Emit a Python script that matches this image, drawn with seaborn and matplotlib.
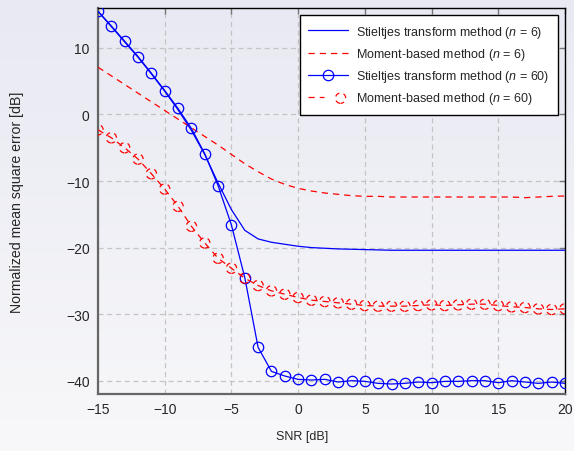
import numpy as np
import pandas as pd
import matplotlib
matplotlib.use("Agg")
import matplotlib.pyplot as plt
import seaborn as sns
from matplotlib.legend_handler import HandlerTuple

# ---- data ----
snr = [-15, -14, -13, -12, -11, -10, -9, -8, -7, -6, -5, -4, -3, -2, -1, 0,
       1, 2, 3, 4, 5, 6, 7, 8, 9, 10, 11, 12, 13, 14, 15, 16, 17, 18, 19, 20]

stieltjes_n6 = [15.5, 13.2, 10.9, 8.6, 6.1, 3.5, 0.7, -2.4, -6.0, -10.3,
                -14.3, -17.4, -18.7, -19.2, -19.5, -19.8,
                -20.0, -20.1, -20.2, -20.25, -20.3, -20.35, -20.4, -20.4, -20.4, -20.4,
                -20.4, -20.4, -20.4, -20.4, -20.4, -20.4, -20.4, -20.4, -20.4, -20.4]

moment_n6 = [7.1, 5.8, 4.5, 3.2, 1.9, 0.6, -0.7, -2.0, -3.3, -4.6,
             -6.0, -7.4, -8.6, -9.7, -10.5, -11.1,
             -11.5, -11.8, -12.0, -12.2, -12.3, -12.3, -12.4, -12.4, -12.4, -12.4,
             -12.4, -12.4, -12.4, -12.4, -12.4, -12.4, -12.5, -12.4, -12.3, -12.25]

stieltjes_n60 = [15.5, 13.3, 11.0, 8.7, 6.2, 3.6, 0.9, -2.1, -5.9, -10.7,
                 -16.6, -24.5, -35.0, -38.6, -39.3, -39.8,
                 -39.9, -39.8, -40.2, -40.0, -40.1, -40.4, -40.5, -40.4, -40.2, -40.3,
                 -40.1, -40.1, -40.0, -40.0, -40.3, -40.0, -40.2, -40.4, -40.2, -40.4]

moment_n60 = [-2.3, -3.5, -5.0, -6.7, -8.9, -11.2, -13.8, -16.8, -19.3, -21.6,
              -23.1, -24.6, -25.7, -26.5, -27.0, -27.5,
              -27.9, -28.1, -28.3, -28.5, -28.7, -28.8, -28.8, -28.8, -28.7, -28.6,
              -28.7, -28.6, -28.5, -28.5, -28.7, -28.9, -29.0, -29.2, -29.3, -29.2]

legend_labels = [r"Stieltjes transform method ($n$ = 6)",
                 r"Moment-based method ($n$ = 6)",
                 r"Stieltjes transform method ($n$ = 60)",
                 r"Moment-based method ($n$ = 60)"]

x_ticks = [-15, -10, -5, 0, 5, 10, 15, 20]
y_ticks = [-40, -30, -20, -10, 0, 10]

# ---- style ----
sns.set_style("white")
plt.rcParams["font.family"] = ["Liberation Sans", "DejaVu Sans"]
plt.rcParams["mathtext.fontset"] = "custom"
plt.rcParams["mathtext.rm"] = "Liberation Sans"
plt.rcParams["mathtext.it"] = "Liberation Sans:italic"
plt.rcParams["axes.unicode_minus"] = True

df = pd.DataFrame({"snr": snr, "s6": stieltjes_n6, "m6": moment_n6,
                   "s60": stieltjes_n60, "m60": moment_n60})

fig = plt.figure(figsize=(5.74, 4.52), dpi=100)

# background gradient
bg = fig.add_axes([0, 0, 1, 1], zorder=-10)
top = np.array([232, 233, 242]) / 255.0
bot = np.array([248, 248, 250]) / 255.0
t = np.linspace(0, 1, 256)[:, None]
grad = (top[None, :] * (1 - t) + bot[None, :] * t)[:, None, :]
bg.imshow(grad, aspect="auto", extent=[0, 1, 0, 1], interpolation="bilinear")
bg.axis("off")

ax = fig.add_axes([98 / 574, 1 - 395 / 452, 467 / 574, 386 / 452])
ax.set_facecolor("none")

blue = "#0000ff"
red = "#ff0000"
dash = (0, (5, 4))

sns.lineplot(data=df, x="snr", y="s6", ax=ax, color=blue, lw=0.9, zorder=3)
sns.lineplot(data=df, x="snr", y="m6", ax=ax, color=red, lw=0.9, linestyle=dash, zorder=3)
sns.lineplot(data=df, x="snr", y="s60", ax=ax, color=blue, lw=0.9, zorder=3,
             marker="o", markersize=7.5, markerfacecolor="none",
             markeredgecolor=blue, markeredgewidth=0.9)
sns.lineplot(data=df, x="snr", y="m60", ax=ax, color=red, lw=0.9, linestyle=dash, zorder=3)
sc = ax.scatter(df["snr"], df["m60"], s=55, facecolors="none", edgecolors=red,
                linewidths=0.9, linestyle=(1.0, (4.0, 3.5)), zorder=4)

lines = ax.get_lines()
h1, h2, h3, h4 = lines[0], lines[1], lines[2], lines[3]

ax.set_xlim(-15, 20)
ax.set_ylim(-42, 16)
ax.set_xticks(x_ticks)
ax.set_yticks(y_ticks)
ax.grid(True, color="#c4c4c4", linestyle=(0, (4, 3)), lw=0.9, zorder=0)
ax.set_axisbelow(True)

ax.tick_params(axis="both", which="both", direction="in", length=4, width=1,
               color="#777777", labelsize=10, top=True, right=True, pad=6)
for s in ["left", "bottom"]:
    ax.spines[s].set_color("#666666")
    ax.spines[s].set_linewidth(1.6)
for s in ["top", "right"]:
    ax.spines[s].set_color("black")
    ax.spines[s].set_linewidth(1.0)

ax.set_xlabel("SNR [dB]", fontsize=9)
ax.xaxis.set_label_coords(0.437, -0.093)
ax.set_ylabel("Normalized mean square error [dB]", fontsize=10.2, labelpad=30)

leg = ax.legend([h1, h2, h3, (h4, sc)], legend_labels,
                handler_map={tuple: HandlerTuple(ndivide=None)},
                loc="upper right", bbox_to_anchor=(0.985, 0.982), borderaxespad=0,
                fontsize=9, frameon=True, fancybox=False, framealpha=1,
                edgecolor="black", handlelength=3.2, labelspacing=0.5,
                borderpad=0.7, handletextpad=0.6)
leg.get_frame().set_linewidth(1.0)
leg.set_zorder(10)

fig.savefig("out.png", dpi=100)
